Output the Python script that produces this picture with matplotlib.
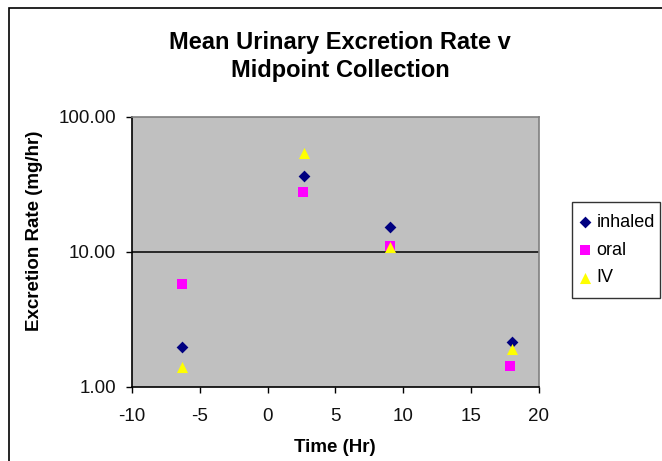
import matplotlib
matplotlib.use("Agg")
import matplotlib.pyplot as plt
from matplotlib.patches import Rectangle
from matplotlib.ticker import FixedLocator, FixedFormatter, NullLocator

plt.rcParams['font.family'] = ['Liberation Sans', 'DejaVu Sans']
plt.rcParams['axes.unicode_minus'] = False

title_lines = ["Mean Urinary Excretion Rate v", "Midpoint Collection"]
x_label = "Time (Hr)"
y_label = "Excretion Rate (mg/hr)"

series_names = ["inhaled", "oral", "IV"]
inhaled_x = [-6.3, 2.7, 9.0, 18.0]
inhaled_y = [1.96, 36.4, 15.2, 2.13]
oral_x = [-6.3, 2.6, 9.0, 17.9]
oral_y = [5.8, 27.7, 11.0, 1.42]
iv_x = [-6.3, 2.7, 9.0, 18.0]
iv_y = [1.41, 53.5, 10.8, 1.91]

x_ticks = [-10, -5, 0, 5, 10, 15, 20]
y_ticks = [1, 10, 100]
y_tick_labels = ["1.00", "10.00", "100.00"]

W, H = 662, 461
fig = plt.figure(figsize=(W / 100, H / 100), dpi=100)
fig.patch.set_facecolor('white')

# outer chart frame (cut off on right/bottom)
fig.patches.append(Rectangle((9 / W, -0.1), 2.0, 1.1 - 8 / H, transform=fig.transFigure,
                             fill=False, edgecolor='black', linewidth=1.2))

ax = fig.add_axes([132 / W, 1 - 386.7 / H, (538.7 - 132) / W, (386.7 - 116.7) / H])
ax.set_facecolor('#c0c0c0')
ax.set_yscale('log')
ax.set_xlim(-10, 20)
ax.set_ylim(1, 100)

ax.axhline(10, color='black', linewidth=1.1, zorder=1)

ax.scatter(inhaled_x, inhaled_y, marker='D', s=36, color='#000080', label=series_names[0], zorder=3, linewidths=0)
ax.scatter(oral_x, oral_y, marker='s', s=47, color='#ff00ff', label=series_names[1], zorder=3, linewidths=0)
ax.scatter(iv_x, iv_y, marker='^', s=64, color='#ffff00', label=series_names[2], zorder=4, linewidths=0)

ax.xaxis.set_major_locator(FixedLocator(x_ticks))
ax.yaxis.set_major_locator(FixedLocator(y_ticks))
ax.yaxis.set_major_formatter(FixedFormatter(y_tick_labels))
ax.yaxis.set_minor_locator(NullLocator())
ax.tick_params(axis='both', direction='out', length=4.5, width=1, color='black', labelsize=13.5,
               labelcolor='#111111')
ax.tick_params(axis='x', pad=10.5)
ax.tick_params(axis='y', pad=7)

for s in ['top', 'right']:
    ax.spines[s].set_color('#808080')
    ax.spines[s].set_linewidth(1.2)
for s in ['left', 'bottom']:
    ax.spines[s].set_color('black')
    ax.spines[s].set_linewidth(1.2)

fig.text(340 / W, 1 - 43 / H, title_lines[0], ha='center', va='center', fontsize=17, fontweight='bold')
fig.text(340 / W, 1 - 71 / H, title_lines[1], ha='center', va='center', fontsize=17, fontweight='bold')
fig.text(35 / W, 1 - 231 / H, y_label, ha='center', va='center', rotation=90, fontsize=13.5, fontweight='bold')
fig.text(335 / W, 1 - 447 / H, x_label, ha='center', va='center', fontsize=13.5, fontweight='bold')

# legend box
fig.patches.append(Rectangle((572 / W, 1 - 298 / H), 88 / W, 96 / H, transform=fig.transFigure,
                             fill=False, edgecolor='#333333', linewidth=1.0))
leg = fig.legend(loc='center left', bbox_to_anchor=(578.5 / W, 1 - 250 / H), frameon=False,
                 fontsize=13, handletextpad=0.3, handlelength=0.7, borderpad=0.0,
                 labelspacing=0.6, borderaxespad=0)

fig.savefig('out.png', dpi=100)
